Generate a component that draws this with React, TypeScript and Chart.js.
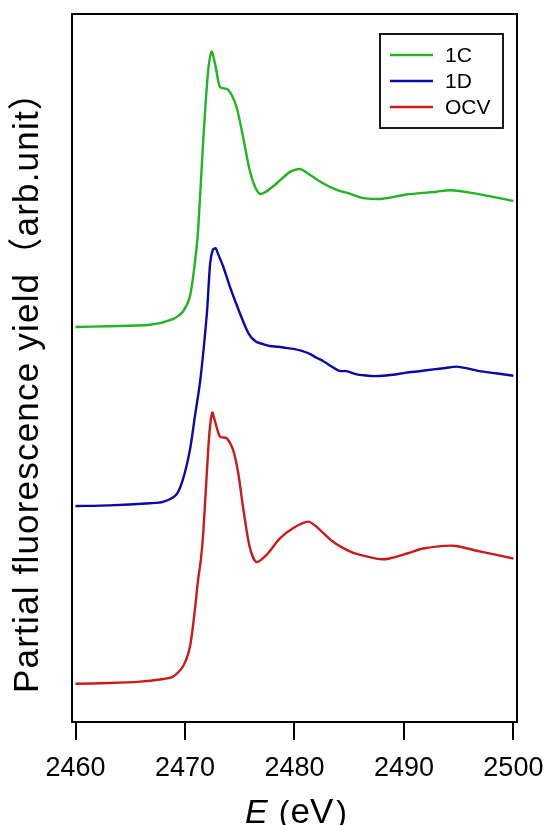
import React, { useEffect, useRef } from "react";
import { Chart, registerables } from "chart.js";

Chart.register(...registerables);

const xTicks = [2460, 2470, 2480, 2490, 2500];
const seriesLabels = ["1C", "1D", "OCV"];
const seriesColors = ["#22b422", "#0a0aa8", "#cc1a1a"];
const yTitle = "Partial fluorescence yield（arb.unit）";
const xTitleParts = ["E", "(", "eV", ")"];

const e1C = [2460, 2463, 2466.8, 2468.9, 2469.8, 2470.45, 2470.9, 2471.2, 2471.67, 2472.12, 2472.43, 2472.8, 2473.2, 2473.95, 2474.7, 2475.3, 2475.9, 2476.4, 2476.85, 2477.4, 2478.4, 2479.6, 2480.5, 2481.4, 2482.6, 2483.8, 2485.1, 2486.3, 2488.1, 2490.2, 2493.0, 2494.2, 2496.3, 2500];
const i1C = [55.8, 55.9, 56.1, 56.9, 57.95, 60.1, 64.8, 69.5, 82.2, 92.1, 94.7, 92.6, 89.7, 89.3, 86.9, 82.7, 78.0, 75.6, 74.6, 74.9, 76.1, 77.7, 78.1, 77.3, 76.1, 75.2, 74.6, 74.0, 73.9, 74.5, 74.9, 75.1, 74.7, 73.6];

const e1D = [2460, 2463.1, 2466.8, 2468.0, 2469.2, 2469.8, 2470.45, 2470.9, 2471.4, 2472.0, 2472.3, 2472.55, 2472.8, 2473.0, 2473.5, 2474.1, 2474.9, 2475.8, 2476.5, 2477.2, 2477.75, 2478.5, 2479.2, 2479.9, 2480.6, 2481.4, 2482.0, 2482.6, 2483.2, 2484.1, 2484.75, 2485.7, 2486.5, 2487.3, 2488.1, 2489.0, 2490.2, 2491.4, 2492.7, 2493.8, 2494.8, 2495.8, 2496.9, 2498.4, 2500];
const i1D = [30.5, 30.6, 30.9, 31.1, 32.1, 34.2, 38.4, 43.1, 48.3, 57.7, 64.8, 66.7, 66.9, 66.2, 64.3, 61.5, 58.2, 54.9, 53.7, 53.35, 53.1, 53.0, 52.85, 52.7, 52.45, 52.0, 51.45, 51.0, 50.4, 49.6, 49.55, 49.1, 48.95, 48.85, 48.9, 49.05, 49.35, 49.55, 49.8, 50.0, 50.2, 49.95, 49.55, 49.25, 48.9];

const eOCV = [2460, 2463.1, 2465.9, 2467.7, 2468.9, 2469.8, 2470.45, 2470.9, 2471.2, 2471.45, 2471.67, 2472.12, 2472.3, 2472.5, 2472.7, 2473.2, 2473.8, 2474.4, 2474.86, 2475.3, 2475.9, 2476.5, 2477.45, 2478.65, 2479.9, 2481.25, 2482.0, 2483.5, 2485.05, 2486.0, 2487.8, 2488.7, 2490.3, 2491.75, 2494.5, 2496.9, 2500];
const iOCV = [5.4, 5.5, 5.7, 6.0, 6.4, 7.8, 10.6, 15.8, 20.1, 22.9, 26.7, 38.4, 41.9, 43.7, 42.7, 40.3, 40.1, 38.4, 35.2, 30.4, 24.8, 22.6, 23.6, 25.9, 27.4, 28.3, 27.6, 25.5, 24.1, 23.6, 23.0, 23.1, 23.8, 24.5, 24.9, 24.1, 23.1];

const seriesE = [e1C, e1D, eOCV];
const seriesI = [i1C, i1D, iOCV];

const FONT = "'Liberation Sans', Arial, 'Noto Sans CJK JP', sans-serif";

const decor = {
  id: "decor",
  afterDraw(chart: any) {
    const { ctx, chartArea: a } = chart;
    ctx.save();
    // frame
    ctx.strokeStyle = "#000";
    ctx.lineWidth = 2;
    ctx.strokeRect(a.left, a.top, a.right - a.left, a.bottom - a.top);

    // legend
    const lx = a.right - 137, ly = a.top + 20, lw = 123, lh = 94;
    ctx.fillStyle = "#fff";
    ctx.fillRect(lx, ly, lw, lh);
    ctx.lineWidth = 1.8;
    ctx.strokeStyle = "#000";
    ctx.strokeRect(lx, ly, lw, lh);
    chart.data.datasets.forEach((ds: any, i: number) => {
      const y = ly + 21 + i * 26;
      ctx.strokeStyle = ds.borderColor;
      ctx.lineWidth = 2.5;
      ctx.beginPath();
      ctx.moveTo(lx + 10, y);
      ctx.lineTo(lx + 53, y);
      ctx.stroke();
      ctx.fillStyle = "#000";
      ctx.font = `21px ${FONT}`;
      ctx.textAlign = "left";
      ctx.textBaseline = "middle";
      ctx.fillText(ds.label, lx + 65, y + 1);
    });

    // y title
    ctx.save();
    ctx.translate(38, 693);
    ctx.rotate(-Math.PI / 2);
    ctx.fillStyle = "#000";
    ctx.font = `35px ${FONT}`;
    try { (ctx as any).letterSpacing = "1.2px"; } catch (e) {}
    ctx.textAlign = "left";
    ctx.textBaseline = "alphabetic";
    ctx.fillText(yTitle, 0, 0);
    try { (ctx as any).letterSpacing = "0px"; } catch (e) {}
    ctx.restore();

    // x title: italic E, then (eV)
    ctx.fillStyle = "#000";
    ctx.textBaseline = "alphabetic";
    ctx.textAlign = "left";
    const fonts = [`italic 34px ${FONT}`, `32px ${FONT}`, `35px ${FONT}`, `32px ${FONT}`];
    const gaps = [11, 1, 3, 0];
    let total = 0;
    const widths = xTitleParts.map((t, i) => {
      ctx.font = fonts[i];
      const w = ctx.measureText(t).width;
      total += w + gaps[i];
      return w;
    });
    let x = 296 - total / 2;
    const by = 823;
    xTitleParts.forEach((t, i) => {
      ctx.font = fonts[i];
      ctx.fillText(t, x, by);
      x += widths[i] + gaps[i];
    });
    ctx.restore();
  },
};

export default function App() {
  const ref = useRef<HTMLCanvasElement | null>(null);
  useEffect(() => {
    if (!ref.current) return;
    const chart = new Chart(ref.current, {
      type: "line",
      data: {
        datasets: seriesLabels.map((label, k) => ({
          label,
          data: seriesE[k].map((x, j) => ({ x, y: seriesI[k][j] })),
          borderColor: seriesColors[k],
          backgroundColor: seriesColors[k],
          borderWidth: 2.4,
          pointRadius: 0,
          tension: 0.25,
          fill: false,
        })),
      },
      options: {
        animation: false,
        responsive: false,
        maintainAspectRatio: false,
        layout: { padding: { left: 72, right: 32, top: 14, bottom: 0 } },
        plugins: {
          legend: { display: false },
          tooltip: { enabled: false },
          title: { display: false },
        },
        scales: {
          x: {
            type: "linear",
            min: 2459.68,
            max: 2500.33,
            afterBuildTicks: (scale: any) => {
              scale.ticks = xTicks.map((v) => ({ value: v }));
            },
            afterFit: (scale: any) => {
              scale.height = 103;
              scale.paddingLeft = 0;
              scale.paddingRight = 0;
            },
            grid: {
              display: true,
              drawOnChartArea: false,
              drawTicks: true,
              tickLength: 18,
              tickWidth: 2,
              color: "#000",
              lineWidth: 2,
            },
            border: { display: false },
            ticks: {
              color: "#000",
              padding: 12,
              maxRotation: 0,
              font: { family: FONT, size: 27 },
              callback: (v: any) => String(v),
            },
          },
          y: {
            type: "linear",
            display: false,
            min: 0,
            max: 100,
          },
        },
      },
      plugins: [decor],
    });
    return () => chart.destroy();
  }, []);
  return (
    <div style={{ position: "fixed", left: 0, top: 0, width: 549, height: 825, background: "#fff" }}>
      <canvas ref={ref} width={549} height={825} style={{ width: 549, height: 825, display: "block" }} />
    </div>
  );
}
